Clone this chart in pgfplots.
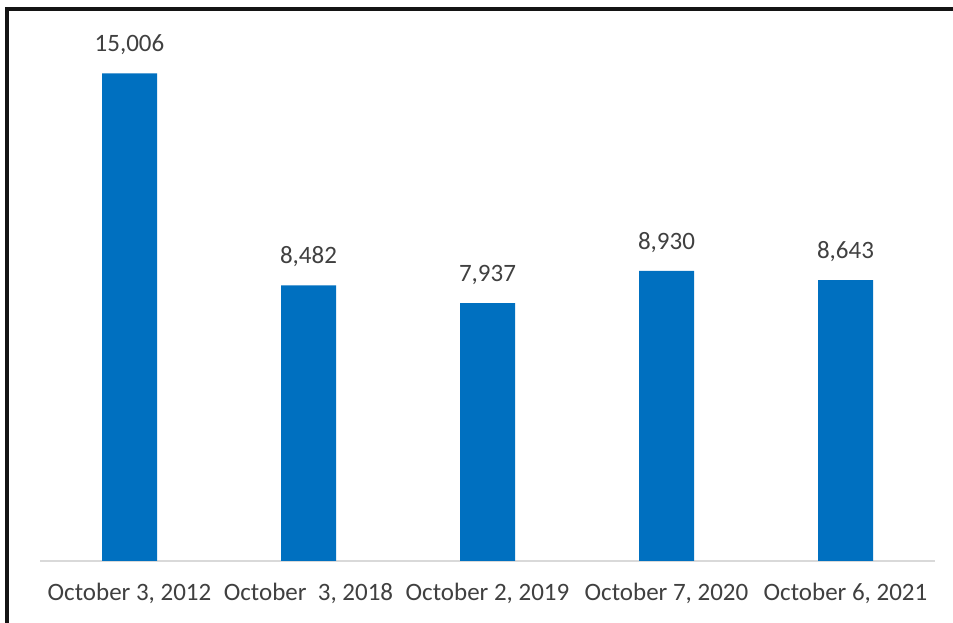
\documentclass[border=0pt]{standalone}
\usepackage{fontspec}
\setmainfont{Carlito}
\usepackage{pgfplots}
\pgfplotsset{compat=1.18}
\definecolor{barblue}{HTML}{0070C0}
\definecolor{txtgray}{HTML}{404040}
\definecolor{axgray}{HTML}{D9D9D9}
\begin{document}
\begin{tikzpicture}
\path[use as bounding box] (0pt,0pt) rectangle (953pt,623pt);
\fill[white] (0pt,0pt) rectangle (953pt,623pt);
% frame (left and top only)
\draw[line width=4.5pt,black!92] (7pt,0pt) -- (7pt,614pt) -- (953pt,614pt);
\begin{axis}[
  at={(40pt,62pt)}, anchor=south west,
  scale only axis,
  width=895pt, height=520pt,
  xmin=-0.5, xmax=4.5,
  ymin=0, ymax=16000,
  axis x line=bottom,
  axis y line=none,
  x axis line style={axgray, line width=1.5pt, -},
  xtick=data,
  xticklabels={{October 3, 2012},{October\ \ 3, 2018},{October 2, 2019},{October 7, 2020},{October 6, 2021}},
  major tick length=0pt,
  xticklabel style={anchor=north, inner sep=0pt, yshift=-22pt, text=txtgray,
    font=\fontsize{25}{30}\selectfont},
  ybar, bar width=55pt,
  nodes near coords,
  nodes near coords style={anchor=south, inner sep=0pt, yshift=18pt, text=txtgray,
    font=\fontsize{25}{30}\selectfont,
    /pgf/number format/.cd, fixed, 1000 sep={,}, assume math mode=true},
  clip=false,
]
\addplot[fill=barblue, draw=none] coordinates {
  (0,15006) (1,8482) (2,7937) (3,8930) (4,8643)
};
\end{axis}
\end{tikzpicture}
\end{document}
